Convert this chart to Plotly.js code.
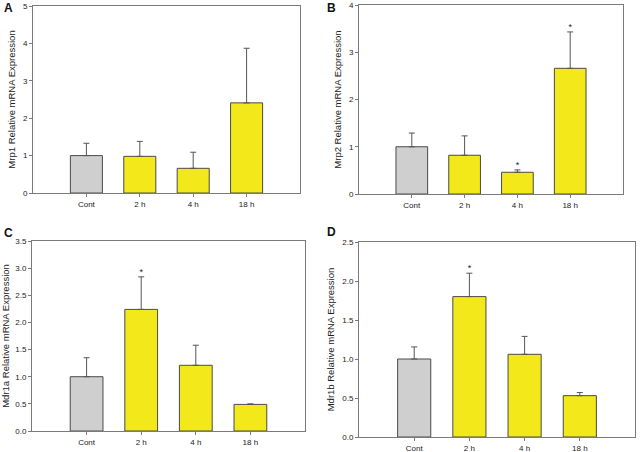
<!DOCTYPE html>
<html>
<head>
<meta charset="utf-8">
<script src="https://cdn.plot.ly/plotly-3.0.1.min.js"></script>
<style>html,body{margin:0;padding:0;background:#fff;}#chart{width:640px;height:452px;}</style>
</head>
<body>
<div id="chart"></div>
<script>
var categories = ["Cont", "2 h", "4 h", "18 h"];
var panelLetters = ["A", "B", "C", "D"];
var yTitles = ["Mrp1 Relative mRNA Expression", "Mrp2 Relative mRNA Expression", "Mdr1a Relative mRNA Expression", "Mdr1b Relative mRNA Expression"];
var mrp1 = [1.00, 0.98, 0.66, 2.41];
var mrp1Err = [1.33, 1.38, 1.09, 3.87];
var mrp2 = [1.00, 0.82, 0.46, 2.66];
var mrp2Err = [1.29, 1.23, 0.51, 3.43];
var mdr1a = [1.00, 2.24, 1.21, 0.49];
var mdr1aErr = [1.35, 2.84, 1.58, 0.50];
var mdr1b = [1.00, 1.80, 1.06, 0.53];
var mdr1bErr = [1.155, 2.10, 1.29, 0.57];
var mrp1Star = [false, false, false, false];
var mrp2Star = [false, false, true, true];
var mdr1aStar = [false, true, false, false];
var mdr1bStar = [false, true, false, false];
var yRanges = [[0, 5], [0, 4], [0, 3.5], [0, 2.5]];
var yDtick = [1, 1, 0.5, 0.5];

var values = [mrp1, mrp2, mdr1a, mdr1b];
var errTops = [mrp1Err, mrp2Err, mdr1aErr, mdr1bErr];
var stars = [mrp1Star, mrp2Star, mdr1aStar, mdr1bStar];

var W = 640, H = 452;
function fx(a, b) { return [a / W, b / W]; }
function fy(top, bottom) { return [1 - bottom / H, 1 - top / H]; }
var xDomains = [fx(33, 300), fx(359, 623), fx(32, 305), fx(359, 635)];
var yDomains = [fy(6, 193), fy(5, 194), fy(241, 431), fy(242, 437)];
var letterPos = [[8, 8], [331, 8], [8, 233], [331, 232]];

var barColors = ["#cfcfcf", "#f3e81a", "#f3e81a", "#f3e81a"];
var data = [];
var layout = {
  width: W, height: H,
  margin: {l: 0, r: 0, t: 0, b: 0},
  paper_bgcolor: "#fff", plot_bgcolor: "#fff",
  showlegend: false,
  font: {family: "Arial, Liberation Sans, sans-serif", color: "#222"},
  annotations: []
};

for (var i = 0; i < 4; i++) {
  var sx = i === 0 ? "" : String(i + 1);
  var xa = "x" + sx, ya = "y" + sx;
  var plus = values[i].map(function (v, k) { return errTops[i][k] - v; });
  data.push({
    type: "bar", x: categories, y: values[i], xaxis: xa, yaxis: ya,
    width: 0.6,
    marker: {color: barColors, line: {color: "#4a4a4a", width: 1}},
    error_y: {type: "data", symmetric: false, array: plus, arrayminus: [0, 0, 0, 0],
      color: "#555", thickness: 1, width: 3},
    hoverinfo: "none"
  });
  var sxs = [], sys = [];
  stars[i].forEach(function (s, k) { if (s) { sxs.push(categories[k]); sys.push(errTops[i][k]); } });
  data.push({
    type: "scatter", mode: "text", x: sxs, y: sys, text: sxs.map(function () { return "*"; }),
    textposition: "top center", textfont: {size: 9, color: "#222"},
    xaxis: xa, yaxis: ya, hoverinfo: "none", cliponaxis: false
  });
  layout["xaxis" + sx] = {
    domain: xDomains[i], anchor: ya, type: "category", range: [-1, 4],
    showline: true, mirror: true, linecolor: "#7a7a7a", linewidth: 1,
    ticks: "outside", ticklen: 3, tickcolor: "#7a7a7a",
    tickfont: {size: 8, color: "#222"}, showgrid: false, zeroline: false, fixedrange: true
  };
  layout["yaxis" + sx] = {
    domain: yDomains[i], anchor: xa, range: yRanges[i], dtick: yDtick[i],
    tickformat: yDtick[i] < 1 ? ".1f" : "d",
    showline: true, mirror: true, linecolor: "#7a7a7a", linewidth: 1,
    ticks: "outside", ticklen: 3, tickcolor: "#7a7a7a",
    tickfont: {size: 8, color: "#222"}, showgrid: false, zeroline: false, fixedrange: true,
    title: {text: yTitles[i], font: {size: 9.5, color: "#222"}, standoff: 5}
  };
  layout.annotations.push({
    text: "<b>" + panelLetters[i] + "</b>", xref: "paper", yref: "paper",
    x: letterPos[i][0] / W, y: 1 - letterPos[i][1] / H,
    xanchor: "center", yanchor: "middle", showarrow: false,
    font: {size: 12, color: "#111"}
  });
}

Plotly.newPlot("chart", data, layout, {displayModeBar: false, staticPlot: true});
</script>
</body>
</html>
